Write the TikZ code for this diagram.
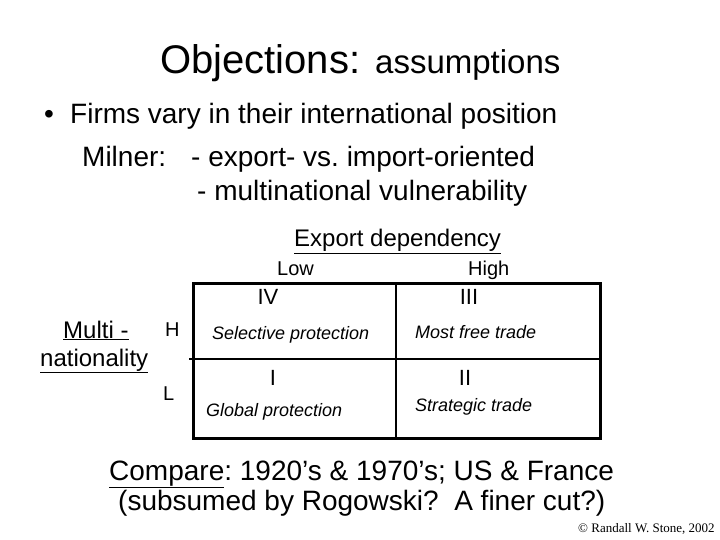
\documentclass[tikz,border=0pt]{standalone}
\usepackage{fontspec}
\setmainfont{Liberation Sans}
\newfontfamily\rwsfont{Liberation Serif}
\usetikzlibrary{positioning}
\newcommand\fs[1]{\fontsize{#1}{#1}\selectfont}
\frenchspacing

\begin{document}
\begin{tikzpicture}[x=1pt,y=-1pt,
  t/.style={inner sep=0pt,anchor=base west},
  cell/.style={t,font=\fs{18}\itshape},
  num/.style={inner sep=0pt,anchor=base,font=\fs{22}}]
  \useasboundingbox[fill=white] (0,0) rectangle (720,540);
  % title
  \node[t,font=\fs{40}] (obj) at (160,74) {Objections:};
  \node[t,font=\fs{33}] (asm) at (375,74) {assumptions};
  % bullet
  \node[inner sep=0pt,anchor=base,font=\fs{28}] (bul) at (49,124) {\textbullet};
  \node[t,font=\fs{28}] (firms) at (70,124) {Firms vary in their international position};
  \node[t,font=\fs{28}] (mil) at (82,167) {Milner:};
  \node[t,font=\fs{28}] (eio) at (191,167) {- export- vs. import-oriented};
  \node[t,font=\fs{28}] (mnv) at (197,201) {- multinational vulnerability};
  % axes
  \node[t,font=\fs{24}] (ed) at (294,247) {\underline{Export dependency}};
  \node[t,font=\fs{20}] (lo) at (277,275) {Low};
  \node[t,font=\fs{20}] (hi) at (468,275) {High};
  \node[t,font=\fs{24}] (mu1) at (63,338) {\underline{Multi -}};
  \node[t,font=\fs{24}] (mu2) at (40,366) {\underline{nationality}};
  \node[t,font=\fs{20}] (hh) at (165,336) {H};
  \node[t,font=\fs{20}] (ll) at (163,400) {L};
  % table
  \draw[line width=3pt] (193,283) rectangle (600,438);
  \draw[line width=2pt] (396,283) -- (396,438) (189,359) -- (600,359);
  \node[num] (q4) at (268,304) {IV};
  \node[num] (q3) at (469,304) {III};
  \node[num] (q1) at (273,385) {I};
  \node[num] (q2) at (465,385) {II};
  \node[cell] (sp) at (212,339) {Selective protection};
  \node[cell] (mf) at (415,338) {Most free trade};
  \node[cell] (gp) at (206,416) {Global protection};
  \node[cell] (st) at (415,411) {Strategic trade};
  % bottom
  \node[t,font=\fs{28}] (cmp) at (109,480) {\underline{Compare}: 1920’s \& 1970’s; US \& France};
  \node[t,font=\fs{28}] (sub) at (118,510) {(subsumed by Rogowski?\ \ A finer cut?)};
  \node[t,font=\rwsfont\fs{13}] (cr) at (578,532) {\copyright{} Randall W. Stone, 2002};
\end{tikzpicture}
\end{document}
